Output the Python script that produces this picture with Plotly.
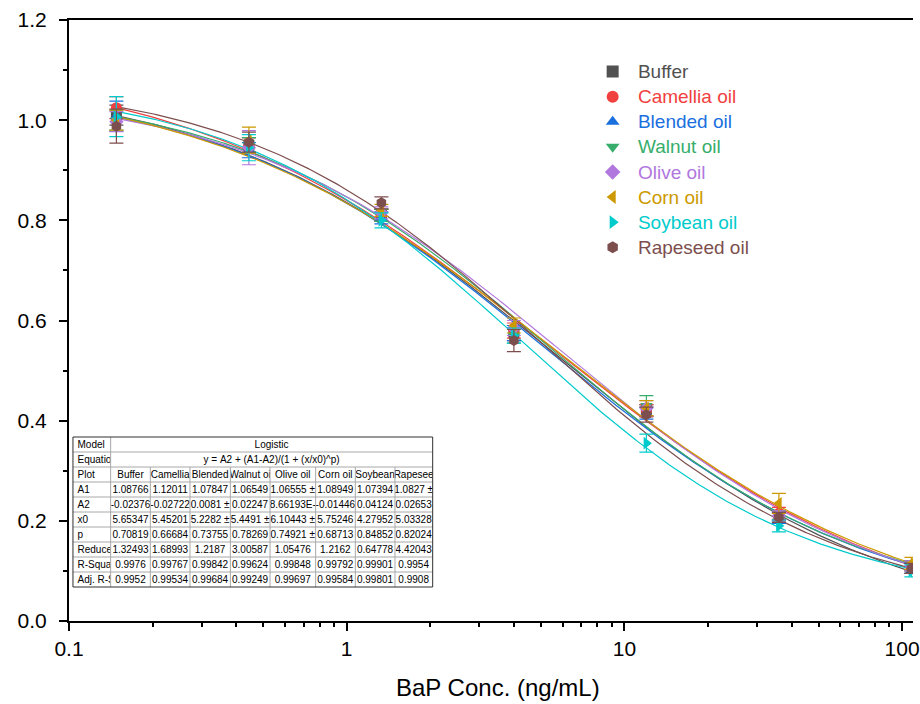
import numpy as np
import plotly.graph_objects as go

# BaP concentrations (ng/mL), 3-fold dilution series
conc = [4 / 27, 4 / 9, 4 / 3, 4, 12, 36, 108]

series_names = ["Buffer", "Camellia oil", "Blended oil", "Walnut oil",
                "Olive oil", "Corn oil", "Soybean oil", "Rapeseed oil"]
colors = ["#515151", "#F14040", "#1A6FDF", "#37AD6B",
          "#B177DE", "#CC9900", "#00CBCC", "#7D4E4E"]
symbols = ["square", "circle", "triangle-up", "triangle-down",
           "diamond", "triangle-left", "triangle-right", "hexagon"]

# normalised response (B/B0) for each matrix
buffer_y   = [1.010, 0.950, 0.810, 0.575, 0.420, 0.210, 0.105]
camellia_y = [1.025, 0.950, 0.810, 0.580, 0.420, 0.215, 0.110]
blended_y  = [1.008, 0.940, 0.805, 0.575, 0.415, 0.205, 0.105]
walnut_y   = [1.000, 0.950, 0.810, 0.570, 0.430, 0.210, 0.110]
olive_y    = [0.997, 0.945, 0.815, 0.585, 0.425, 0.210, 0.110]
corn_y     = [1.000, 0.960, 0.820, 0.590, 0.425, 0.235, 0.115]
soybean_y  = [1.007, 0.945, 0.800, 0.570, 0.355, 0.190, 0.100]
rapeseed_y = [0.988, 0.956, 0.835, 0.560, 0.412, 0.207, 0.105]

# standard deviations
buffer_e   = [0.020, 0.015, 0.012, 0.015, 0.012, 0.010, 0.010]
camellia_e = [0.022, 0.015, 0.012, 0.015, 0.012, 0.012, 0.010]
blended_e  = [0.030, 0.015, 0.012, 0.015, 0.012, 0.010, 0.010]
walnut_e   = [0.020, 0.015, 0.012, 0.015, 0.020, 0.010, 0.010]
olive_e    = [0.020, 0.034, 0.012, 0.015, 0.015, 0.010, 0.010]
corn_e     = [0.020, 0.026, 0.012, 0.015, 0.015, 0.020, 0.012]
soybean_e  = [0.040, 0.026, 0.015, 0.015, 0.018, 0.012, 0.012]
rapeseed_e = [0.034, 0.020, 0.012, 0.022, 0.015, 0.010, 0.010]

ys = [buffer_y, camellia_y, blended_y, walnut_y, olive_y, corn_y, soybean_y, rapeseed_y]
errs = [buffer_e, camellia_e, blended_e, walnut_e, olive_e, corn_e, soybean_e, rapeseed_e]

# four-parameter logistic fit results
fit_A1 = [1.08766, 1.12011, 1.07847, 1.06549, 1.06555, 1.08949, 1.07394, 1.0827]
fit_A2 = [-0.02376, -0.02722, 0.0081, 0.02247, 8.66193e-4, -0.01446, 0.04124, 0.02653]
fit_x0 = [5.65347, 5.45201, 5.2282, 5.4491, 6.10443, 5.75246, 4.27952, 5.03328]
fit_p  = [0.70819, 0.66684, 0.73755, 0.78269, 0.74921, 0.68713, 0.84852, 0.82024]

# fit summary table text
tbl_cols = ["Buffer", "Camellia", "Blended", "Walnut oi", "Olive oil",
            "Corn oil", "Soybean", "Rapesee"]
tbl_rows = ["A1", "A2", "x0", "p", "Reduce", "R-Squar", "Adj. R-S"]
tbl_A1 = ["1.08766", "1.12011", "1.07847", "1.06549", "1.06555 ±", "1.08949", "1.07394", "1.0827 ±"]
tbl_A2 = ["-0.02376", "-0.02722", "0.0081 ±", "0.02247", "8.66193E-", "-0.01446", "0.04124", "0.02653"]
tbl_x0 = ["5.65347", "5.45201", "5.2282 ±", "5.4491 ±", "6.10443 ±", "5.75246", "4.27952", "5.03328"]
tbl_p  = ["0.70819", "0.66684", "0.73755", "0.78269", "0.74921 ±", "0.68713", "0.84852", "0.82024"]
tbl_chi = ["1.32493", "1.68993", "1.2187", "3.00587", "1.05476", "1.2162", "0.64778", "4.42043"]
tbl_r2 = ["0.9976", "0.99767", "0.99842", "0.99624", "0.99848", "0.99792", "0.99901", "0.9954"]
tbl_adj = ["0.9952", "0.99534", "0.99684", "0.99249", "0.99697", "0.99584", "0.99801", "0.9908"]
model_name = "Logistic"
equation = "y = A2 + (A1-A2)/(1 + (x/x0)^p)"

W, H = 920, 704
ML, MR, MT, MB = 69, 0, 20, 83
PW, PH = W - ML - MR, H - MT - MB


def logistic(x, a1, a2, x0, p):
    return a2 + (a1 - a2) / (1 + (x / x0) ** p)


def px_x(v):
    return (v - ML) / PW


def px_y(v):
    return 1 - (v - MT) / PH


fig = go.Figure()

xf = np.logspace(np.log10(conc[0]), np.log10(conc[-1]), 300)
for i in range(len(series_names)):
    fig.add_trace(go.Scatter(
        x=xf, y=logistic(xf, fit_A1[i], fit_A2[i], fit_x0[i], fit_p[i]),
        mode="lines", line=dict(color=colors[i], width=1.2),
        showlegend=False, hoverinfo="skip"))

for i in range(len(series_names)):
    fig.add_trace(go.Scatter(
        x=conc, y=ys[i], mode="markers",
        name=(f"<span style='color:{colors[i]};font-size:19px'>"
              f"\u00a0{series_names[i]}</span>"),
        marker=dict(symbol=symbols[i], size=11, color=colors[i], line=dict(width=0)),
        error_y=dict(type="data", array=errs[i], color=colors[i], thickness=1.2, width=7)))

# ---- fit summary table inside the plot area ----
t_left, t_top = 73, 437
row_h = 15
first_w = 38
col_w = [40, 40, 40.7, 40, 46, 40, 40, 38]          # widths of the data columns
t_right = t_left + first_w + sum(col_w)
n_rows = 2 + 1 + len(tbl_rows)
text_lift = 5                                         # table text sits a bit high in its cell
no_line = dict(color="rgba(0,0,0,0)", width=0)
clear = "rgba(0,0,0,0)"
font_tbl = dict(family="Liberation Sans, Arial", size=10, color="black")
trace_left = ML + 0.5                                 # table trace starts at the axis
first_w_trace = t_left + first_w - trace_left


def nb(s):
    return s.replace(" ", "\u00a0")


fig.add_trace(go.Table(
    domain=dict(x=[px_x(trace_left), px_x(t_right)],
                y=[px_y(t_top + 2 * row_h - text_lift + 4), px_y(t_top - text_lift)]),
    columnwidth=[first_w_trace, t_right - t_left - first_w],
    header=dict(values=["Model", model_name], height=row_h, align=["left", "center"],
                fill_color=clear, line=no_line, font=font_tbl),
    cells=dict(values=[["Equatio"], [nb(equation)]], height=row_h, align=["left", "center"],
               fill_color=clear, line=no_line, font=font_tbl),
))

fig.add_trace(go.Table(
    domain=dict(x=[px_x(trace_left), px_x(t_right)],
                y=[px_y(t_top + n_rows * row_h - text_lift + 4),
                   px_y(t_top + 2 * row_h - text_lift)]),
    columnwidth=[first_w_trace] + col_w,
    header=dict(values=["Plot"] + [nb(c) for c in tbl_cols], height=row_h,
                align=["left"] + ["center"] * len(tbl_cols),
                fill_color=clear, line=no_line, font=font_tbl),
    cells=dict(values=[[nb(r) for r in tbl_rows]] + [
        [nb(tbl_A1[j]), nb(tbl_A2[j]), nb(tbl_x0[j]), nb(tbl_p[j]), tbl_chi[j], tbl_r2[j], tbl_adj[j]]
        for j in range(len(tbl_cols))],
        height=row_h, align=["left"] + ["center"] * len(tbl_cols),
        fill_color=clear, line=no_line, font=font_tbl),
))

# table grid
grid = dict(color="#a8a8a8", width=1)
for r in range(1, n_rows):
    yy = t_top + r * row_h
    fig.add_shape(type="line", xref="paper", yref="paper",
                  x0=px_x(t_left), x1=px_x(t_right), y0=px_y(yy), y1=px_y(yy), line=grid)
fig.add_shape(type="line", xref="paper", yref="paper",
              x0=px_x(t_left + first_w), x1=px_x(t_left + first_w),
              y0=px_y(t_top + n_rows * row_h), y1=px_y(t_top), line=grid)
xx = t_left + first_w
for w in col_w[:-1]:
    xx += w
    fig.add_shape(type="line", xref="paper", yref="paper",
                  x0=px_x(xx), x1=px_x(xx),
                  y0=px_y(t_top + n_rows * row_h), y1=px_y(t_top + 2 * row_h), line=grid)
fig.add_shape(type="rect", xref="paper", yref="paper",
              x0=px_x(t_left), x1=px_x(t_right),
              y0=px_y(t_top + n_rows * row_h), y1=px_y(t_top),
              line=dict(color="#303030", width=1), fillcolor="rgba(0,0,0,0)")

axis_font = dict(family="Liberation Sans, Arial", size=21, color="black")

fig.update_layout(
    width=W, height=H,
    margin=dict(l=ML, r=MR, t=MT, b=MB),
    paper_bgcolor="white", plot_bgcolor="white",
    font=dict(family="Liberation Sans, Arial", color="black"),
    xaxis=dict(type="log", range=[-1, -1 + PW / 280.0],
               tickvals=[0.1, 1, 10, 100], ticktext=["0.1", "1", "10", "100"],
               ticks="outside", ticklen=8, tickwidth=2, tickcolor="black",
               ticklabeloverflow="allow",
               showline=True, linecolor="black", linewidth=2, mirror=True,
               showgrid=False, zeroline=False, tickfont=axis_font,
               minor=dict(ticks="outside", ticklen=4, tickwidth=1.5, tickcolor="black",
                          dtick="D1", showgrid=False)),
    yaxis=dict(range=[0, 1.2], tickvals=[0, 0.2, 0.4, 0.6, 0.8, 1.0, 1.2],
               ticktext=["0.0", "0.2", "0.4", "0.6", "0.8", "1.0", "1.2"],
               ticks="outside", ticklen=8, tickwidth=2, tickcolor="black",
               ticklabelstandoff=8,
               showline=True, linecolor="black", linewidth=2,
               showgrid=False, zeroline=False, tickfont=axis_font,
               minor=dict(ticks="outside", ticklen=4, tickwidth=1.5, tickcolor="black",
                          dtick=0.1, showgrid=False)),
    legend=dict(x=px_x(597), y=px_y(54), xanchor="left", yanchor="top",
                bgcolor="rgba(0,0,0,0)", borderwidth=0,
                font=dict(family="Liberation Sans, Arial", size=17),
                tracegroupgap=0, itemsizing="constant"),
    annotations=[dict(text="BaP Conc. (ng/mL)", xref="paper", yref="paper",
                      x=px_x(502), y=px_y(688), xanchor="center", yanchor="middle",
                      showarrow=False,
                      font=dict(family="Liberation Sans, Arial", size=24, color="black"))],
)

fig.write_html("out.html")
